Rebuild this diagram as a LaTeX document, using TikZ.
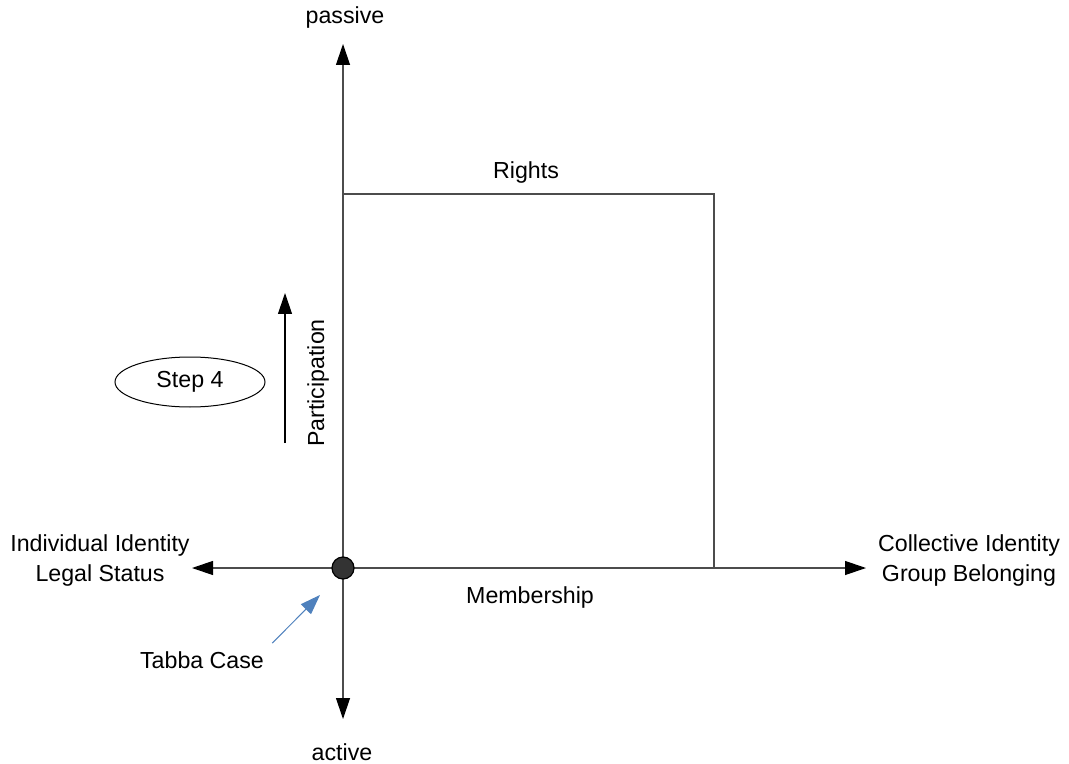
\documentclass[tikz,border=0pt]{standalone}
\usepackage{fontspec}
\setmainfont{Liberation Sans}
\usetikzlibrary{arrows.meta,positioning,shapes.geometric}

\definecolor{pointblue}{RGB}{79,129,189}

\tikzset{
  axis/.style={draw=black!70, line width=0.6pt, -{Triangle[length=10.5pt,width=7pt,color=black]}},
  frame/.style={draw=black!70, line width=0.6pt},
  pointer/.style={draw=pointblue, line width=0.5pt, -{Triangle[length=10pt,width=7pt]}},
  origindot/.style={circle, draw=black, fill=black!80, line width=0.6pt, minimum size=11pt, inner sep=0pt},
  stepbox/.style={ellipse, draw, line width=0.5pt, minimum width=75pt, minimum height=25pt, inner sep=0pt},
  lbl/.style={align=center, inner sep=2pt}
}

\begin{document}
\begin{tikzpicture}[x=0.5pt,y=-0.5pt,font=\fontsize{11.6}{15}\selectfont]
\useasboundingbox (0,0) rectangle (1069,764);

% axes
\coordinate (o) at (343,568);
\coordinate (ptop) at (343,44);
\coordinate (pbot) at (343,719);
\coordinate (pleft) at (192,568);
\coordinate (pright) at (866,568);
\draw[axis] (o) -- (ptop);
\draw[axis] (o) -- (pbot);
\draw[axis] (o) -- (pleft);
\draw[axis] (o) -- (pright);

% the box
\coordinate (rtl) at (343,194);
\coordinate (rbr) at (714,568);
\draw[frame] (rtl) -| (rbr);

\node[origindot] (origin) at (o) {};

% labels
\node[lbl] (passive) at (345,18) {passive};
\node[lbl] (active) at (342,752) {active};
\node[lbl] (indiv) at (100,560) {Individual Identity\\Legal Status};
\node[lbl] (coll) at (969,560) {Collective Identity\\Group Belonging};
\node[lbl] (rights) at (526,173) {Rights};
\node[lbl] (member) at (530,597) {Membership};
\node[lbl, rotate=90] (part) at (318,383) {Participation};

% step
\node[stepbox] (step) at (190,382) {Step 4};
\coordinate (pa1) at (285,443);
\coordinate (pa2) at (285,293);
\draw[axis, draw=black] (pa1) -- (pa2);

% case
\node[lbl, inner sep=4pt] (tabba) at (202,660) {Tabba Case};
\coordinate (tabtip) at (320,595);
\draw[pointer] (tabba.north east) -- (tabtip);
\end{tikzpicture}
\end{document}
